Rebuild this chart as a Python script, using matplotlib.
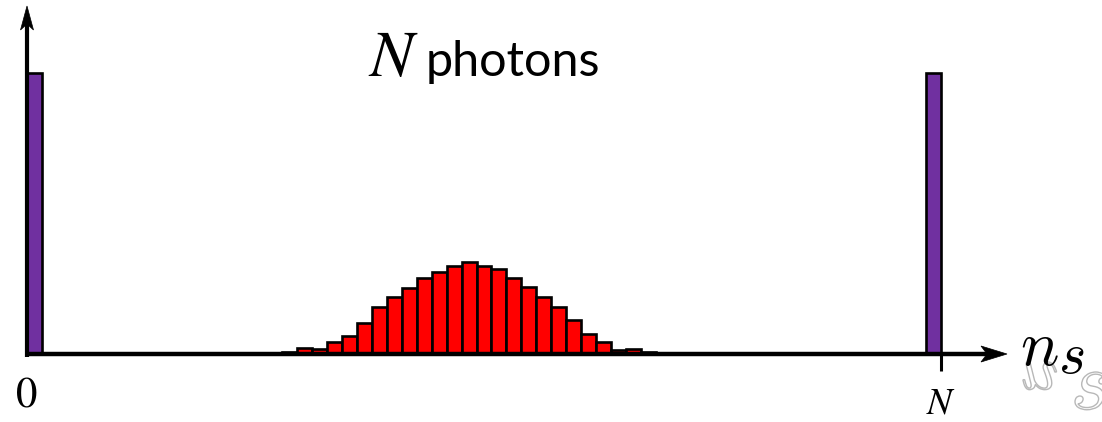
import numpy as np
import matplotlib
matplotlib.use("Agg")
import matplotlib.pyplot as plt
from matplotlib import transforms
from matplotlib.patches import Polygon, PathPatch
from matplotlib.textpath import TextPath
from matplotlib.font_manager import FontProperties

# numero total de fotones
N = 61

# distribucion de n_s en el centro (barras rojas)
red_ns = np.arange(17, 42)
red_heights = [0.007, 0.020, 0.018, 0.043, 0.064, 0.110, 0.166, 0.204, 0.236,
               0.270, 0.293, 0.314, 0.327, 0.314, 0.304, 0.270, 0.238, 0.202,
               0.168, 0.121, 0.071, 0.041, 0.015, 0.018, 0.007]

# los dos picos en los extremos (barras moradas)
edge_ns = [0, N - 1]
edge_heights = [1.0, 1.0]

tick_labels = ["0", "$N$"]

W, H = 1102, 422
fig = plt.figure(figsize=(W / 100, H / 100), dpi=100)
ax = fig.add_axes([0, 0, 1, 1])

# escala: 0 -> px 27, N -> px 941 ; base en px 354 (desde arriba), altura 1 -> 281 px
sx = 914 / N
sy = 281
ax.set_xlim(-27 / sx, (W - 27) / sx)
ax.set_ylim(-(H - 354) / sy, 354 / sy)
ax.axis("off")


def px(x_px, y_px):
    # posicion en pixeles (desde arriba a la izquierda) -> datos
    return (x_px - 27) / sx, (354 - y_px) / sy


ax.bar(red_ns, red_heights, width=1, align="edge", color="#ff0000",
       edgecolor="black", linewidth=1.9, zorder=2)
ax.bar(edge_ns, edge_heights, width=1, align="edge", color="#7030a0",
       edgecolor="black", linewidth=1.9, zorder=2)


def arrow_head(x, y, angle, L=0.26, hw=0.08, notch=0.2):
    # punta tipo "stealth", medidas en pulgadas
    pts = np.array([[0, 0], [-L, hw], [-notch, 0], [-L, -hw]])
    c, s = np.cos(np.radians(angle)), np.sin(np.radians(angle))
    pts = pts @ np.array([[c, s], [-s, c]])
    tr = fig.dpi_scale_trans + transforms.ScaledTranslation(x, y, ax.transData)
    ax.add_patch(Polygon(pts, closed=True, transform=tr, facecolor="black",
                         edgecolor="black", lw=0.5, zorder=4))


# ejes con flechas
x_tip = (1007 - 27) / sx
y_tip = (354 - 6) / sy
ax.plot([0, x_tip - 20 / sx], [0, 0], color="black", lw=3.2,
        solid_capstyle="butt", zorder=3)
ax.plot([0, 0], [-3 / sy, y_tip - 18 / sy], color="black", lw=3.0,
        solid_capstyle="butt", zorder=3)
arrow_head(x_tip, 0, 0)
arrow_head(0, y_tip, 90, L=0.24, hw=0.065, notch=0.18)

# marca en N
ax.plot([N, N], [0, -17 / sy], color="black", lw=2.2, solid_capstyle="butt",
        zorder=3)

ax.text(0, -24 / sy, tick_labels[0], ha="center", va="top", fontsize=31,
        family="STIXGeneral")
ax.text(N, -31 / sy, tick_labels[1], ha="center", va="top", fontsize=27,
        math_fontfamily="stix")

# titulo
ax.text(*px(368, 76), r"$N$", ha="left", va="baseline", fontsize=47,
        math_fontfamily="stix")
ax.text(*px(426, 76), "photons", ha="left", va="baseline", fontsize=35,
        family="Lato")

# etiqueta del eje x, con su reflejo gris
ax.text(*px(1020, 365), r"$n$", ha="left", va="baseline", fontsize=46,
        math_fontfamily="cm", zorder=5)
ax.text(*px(1058, 373), r"$s$", ha="left", va="baseline", fontsize=42,
        math_fontfamily="cm", zorder=5)


def ghost(s, x_px, y_px, size, flip):
    tp = TextPath((0, 0), s, size=size, prop=FontProperties(math_fontfamily="cm"))
    ext = tp.get_extents()
    t = transforms.Affine2D().translate(-ext.x0, -ext.y1 if not flip else -ext.y0)
    t = t.scale(1 / 72, (-1 if flip else 1) / 72)
    tr = t + fig.dpi_scale_trans + transforms.ScaledTranslation(*px(x_px, y_px), ax.transData)
    ax.add_patch(PathPatch(tp, transform=tr, facecolor="white",
                           edgecolor="#b8b8b8", lw=1.0, zorder=4))


ghost(r"$n$", 1023, 362, 44, True)
ghost(r"$s$", 1075, 372, 60, False)

fig.savefig("out.png", dpi=100)
